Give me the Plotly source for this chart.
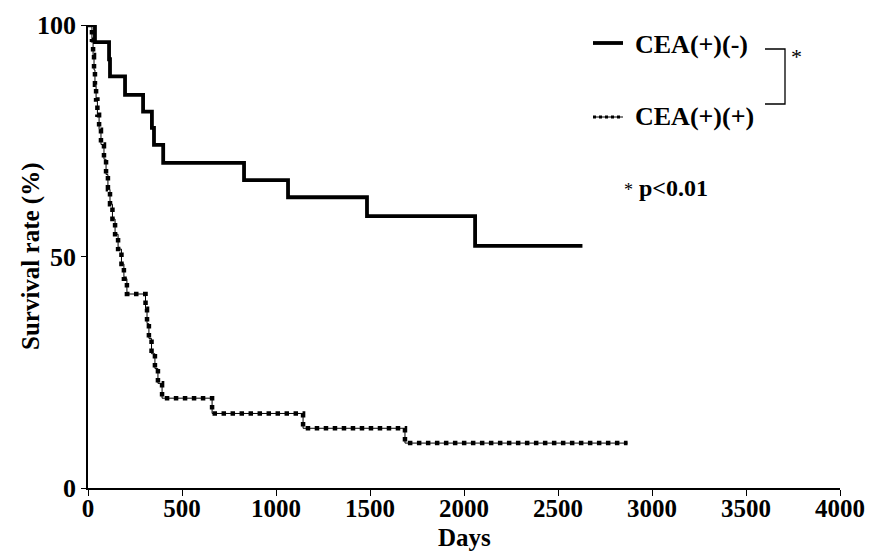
import plotly.graph_objects as go

# ---- data ----
neg_days = [0, 37, 112, 117, 197, 293, 340, 351, 400, 830, 1064, 1484, 2059, 2630]
neg_surv = [100, 96.3, 92.6, 88.9, 84.9, 81.3, 77.8, 74.1, 70.2, 66.5, 62.8, 58.7, 52.3, 52.3]

pos_days = [0, 21, 27, 32, 37, 43, 50, 59, 69, 85, 96, 106, 117, 130, 144, 160, 178, 191, 207,
            306, 314, 324, 338, 356, 372, 394, 660, 1144, 1686, 2870]
pos_surv = [100, 96.8, 93.5, 90.3, 87.1, 83.9, 80.6, 77.4, 74.2, 71.0, 67.7, 64.5, 61.3, 58.1, 54.8,
            51.6, 48.4, 45.2, 41.9, 38.7, 35.5, 32.3, 29.0, 25.8, 22.6, 19.4, 16.1, 12.9, 9.7, 9.7]

x_ticks = [0, 500, 1000, 1500, 2000, 2500, 3000, 3500, 4000]
y_ticks = [0, 50, 100]
labels = ["CEA(+)(-)", "CEA(+)(+)"]

# page is rendered with the default 8px body margin -> compensate
OFF = 8
PW, PH = 874, 551
W, H = PW - OFF, PH - OFF
L, R, T, B = 88, 840, 25, 488  # plot area in page pixels
FONT = "Liberation Serif"


def px(xp):
    return (xp - L) / (R - L)


def py(yp):
    return (B - yp) / (B - T)


fig = go.Figure()
fig.add_trace(go.Scatter(x=neg_days, y=neg_surv, mode="lines", line_shape="hv",
                         line=dict(color="black", width=3.8), name=labels[0], showlegend=False))
fig.add_trace(go.Scatter(x=pos_days, y=pos_surv, mode="lines", line_shape="hv",
                         line=dict(color="black", width=1), name=labels[1], showlegend=False))
fig.add_trace(go.Scatter(x=pos_days, y=pos_surv, mode="lines", line_shape="hv",
                         line=dict(color="black", width=4.5, dash="4.5px,4.5px"), name=labels[1],
                         showlegend=False))

shapes = [
    # legend samples
    dict(type="line", xref="paper", yref="paper", x0=px(593), x1=px(623), y0=py(43), y1=py(43),
         line=dict(color="black", width=3.8)),
    dict(type="line", xref="paper", yref="paper", x0=px(593), x1=px(623), y0=py(117), y1=py(117),
         line=dict(color="black", width=1)),
    dict(type="line", xref="paper", yref="paper", x0=px(593), x1=px(623), y0=py(117), y1=py(117),
         line=dict(color="black", width=3, dash="3px,3px")),
    # bracket
    dict(type="path", xref="paper", yref="paper",
         path=f"M {px(765)} {py(49)} L {px(785)} {py(49)} L {px(785)} {py(104)} L {px(765)} {py(104)}",
         line=dict(color="black", width=1.3)),
]

annotations = [
    dict(xref="paper", yref="paper", x=px(633), y=py(44), text=labels[0], showarrow=False,
         xanchor="left", yanchor="middle", font=dict(family=FONT, size=26, color="black", weight="bold")),
    dict(xref="paper", yref="paper", x=px(633), y=py(117), text=labels[1], showarrow=False,
         xanchor="left", yanchor="middle", font=dict(family=FONT, size=26, color="black", weight="bold")),
    dict(xref="paper", yref="paper", x=px(789), y=py(57), text="*", showarrow=False,
         xanchor="left", yanchor="middle", font=dict(family=FONT, size=22, color="black")),
    dict(xref="paper", yref="paper", x=px(622), y=py(188),
         text="<span style='font-weight:normal;font-size:18px'>*</span> p&lt;0.01", showarrow=False,
         xanchor="left", yanchor="middle", font=dict(family=FONT, size=24, color="black", weight="bold")),
    # axis titles
    dict(xref="paper", yref="paper", x=px(464), y=py(537), text="Days", showarrow=False,
         xanchor="center", yanchor="middle", font=dict(family=FONT, size=25, color="black", weight="bold")),
    dict(xref="paper", yref="paper", x=px(31), y=py(257), text="Survival rate (%)", showarrow=False,
         textangle=-90, xanchor="center", yanchor="middle",
         font=dict(family=FONT, size=25, color="black", weight="bold")),
]

fig.update_layout(
    width=W, height=H,
    margin=dict(l=L - OFF, r=W - (R - OFF), t=T - OFF, b=H - (B - OFF), pad=0, autoexpand=False),
    paper_bgcolor="white", plot_bgcolor="white",
    shapes=shapes, annotations=annotations,
    xaxis=dict(range=[0, 4000], tickvals=x_ticks, ticktext=[str(v) for v in x_ticks],
               automargin=False, ticklabelstandoff=-9,
               showgrid=False, zeroline=False, showline=True, linecolor="black", linewidth=1.5,
               ticks="outside", ticklen=6, tickwidth=1.2, tickcolor="black",
               tickfont=dict(family=FONT, size=25, color="black", weight="bold")),
    yaxis=dict(range=[0, 100], tickvals=y_ticks, ticktext=[str(v) for v in y_ticks],
               automargin=False,
               showgrid=False, zeroline=False, showline=True, linecolor="black", linewidth=1.5,
               ticks="outside", ticklen=5, tickwidth=1.2, tickcolor="black",
               tickfont=dict(family=FONT, size=26, color="black", weight="bold")),
)

fig.write_html("out.html")
